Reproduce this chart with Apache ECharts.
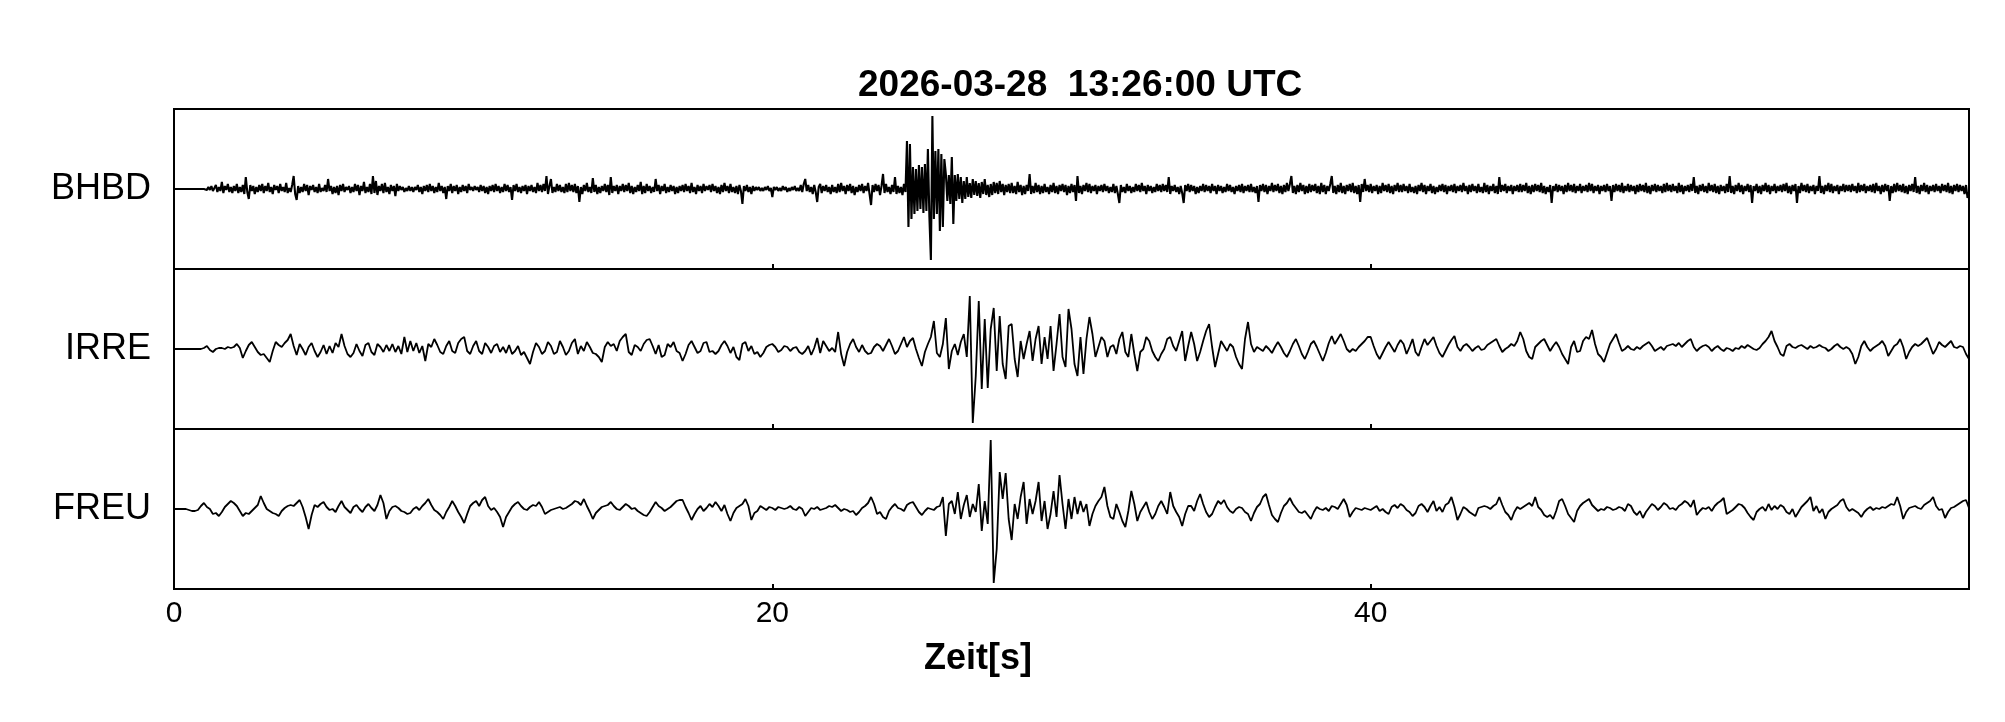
<!DOCTYPE html>
<html>
<head>
<meta charset="utf-8">
<script src="https://cdn.jsdelivr.net/npm/echarts@6/dist/echarts.min.js"></script>
<style>html,body{margin:0;padding:0;background:#fff}#c{width:2005px;height:722px}</style>
</head>
<body>
<div id="c"></div>
<script>
// Stations (panel labels, top to bottom)
const stations = ['BHBD', 'IRRE', 'FREU'];
const titleText = '2026-03-28  13:26:00 UTC';
const xName = 'Zeit[s]';
const xTicks = [0, 20, 40, 60];
const xLabels = ['0', '20', '40', ''];

// BHBD: sample step 0.05 s, one row = 1 s (amplitude in relative units)
const bhbdDt = 0.05;
const bhbd = [
0,0,0,0,0,0,0,0,0,0,0,0,0,0,0,0,0,0,0,1,
0,1,-1,2,-1,3,-2,1,4,-3,2,-2,7,-4,3,-1,5,-3,2,-4,
3,-2,5,-4,2,-3,4,-5,12,-3,-10,4,-2,3,-5,2,-3,4,-2,5,
-4,3,-2,6,-3,2,-5,4,-1,3,-4,5,-2,2,-3,6,-4,1,-3,4,
13,-5,-11,3,-4,2,-3,5,-2,4,-6,3,-1,4,-3,2,-4,5,-3,1,
-2,4,-3,10,-2,3,-5,2,-4,3,-6,4,-2,5,-3,2,-1,3,-4,2,
-3,5,-2,4,-6,3,-2,7,-4,2,-3,5,-5,13,-4,8,-6,3,-2,5,
-4,6,-3,2,-5,4,-2,3,-7,5,-2,3,-1,2,-3,1,-2,3,-2,2,
-3,2,-1,4,-3,2,-5,3,-2,4,-3,5,-2,3,-4,2,-3,6,-2,3,
-4,2,-10,3,-2,5,-4,3,-2,4,-5,2,-3,4,-2,3,-4,5,-1,2,
-2,3,-1,2,-3,4,-2,3,-4,2,-5,3,-2,4,-3,5,-2,3,-4,2,
-3,5,-2,4,-3,2,-11,4,-2,5,-3,2,-4,3,-2,4,-5,3,-2,4,
-3,2,-4,6,-2,4,-3,5,-2,13,-5,3,10,-4,2,-3,5,-2,4,-3,
2,-4,5,-3,6,-2,4,-3,5,-4,3,-13,2,-5,4,-2,6,-3,2,-4,
11,-3,4,-5,2,-4,3,-2,5,-3,4,-6,12,-4,3,-2,4,-5,3,-2,
5,-3,4,-2,6,-4,3,-5,2,-3,4,-2,7,-5,3,-4,5,-2,3,-4,
2,-3,10,-2,4,-5,3,-2,5,-4,2,-3,4,-2,3,-5,2,-4,3,-2,
4,-3,5,-2,3,-4,6,-3,2,-5,4,-2,3,-4,5,-2,3,-1,4,-3,
5,-2,3,-4,2,-5,4,-3,6,-2,3,-4,5,-3,2,-4,3,-5,4,-2,
-15,3,-2,4,-3,2,-5,3,-2,2,-1,2,-2,1,-2,2,-1,3,-2,1,
-8,2,-1,2,-2,1,-2,3,-1,2,-3,1,-2,2,-1,3,-2,1,-2,4,
-3,5,10,-2,4,-3,2,-5,4,-3,-13,2,5,-4,3,-2,4,-3,2,-5,
4,-3,2,-4,5,-3,6,-2,3,-5,4,-2,5,-4,3,-6,2,-3,4,-2,
5,-4,3,-2,6,-5,-16,4,-3,5,-2,4,-6,3,15,-4,5,-3,2,-5,
4,-3,12,-5,3,-4,2,-6,5,-3,48,-38,45,-30,22,-25,20,-22,24,-20,
22,-24,25,-22,40,-28,-71,73,-30,38,-25,40,-42,35,-38,30,15,-12,14,-15,
32,-35,14,-12,15,-10,12,-14,8,-10,12,-8,6,-9,10,-6,8,-7,6,-9,
7,-5,10,-6,4,-8,5,-6,7,-4,6,-5,8,-3,5,-6,4,-3,5,-4,
6,-4,3,-5,7,-3,4,-6,3,-5,4,-2,15,-5,3,-4,6,-3,4,-5,
3,-4,5,-3,2,-5,4,-3,6,-4,3,-5,4,-2,5,-3,4,-6,3,-4,
5,-3,4,-12,13,-4,3,-5,4,-2,6,-3,5,-4,3,-2,4,-5,3,-2,
4,-3,5,-2,3,-4,2,-3,5,-4,3,-5,-14,4,-3,2,-4,5,-2,3,
-4,2,-3,5,-2,4,-3,6,-2,3,-5,4,-2,3,-4,2,-3,5,-2,4,
-3,5,-2,4,-3,12,-5,3,-2,4,-3,2,-5,3,-4,-14,4,-2,5,-3,
4,-2,3,-5,2,-4,3,-2,5,-3,4,-2,3,-4,5,-2,3,-5,4,-2,
3,-4,2,-3,5,-2,4,-3,2,-5,3,-2,4,-3,5,-4,3,-2,4,-3,
5,-3,2,-4,3,-13,4,-2,5,-3,4,-5,3,-2,6,-3,4,-2,5,-4,
3,-5,4,-3,6,-2,5,13,-4,3,-5,4,-3,6,-2,4,-5,3,-4,5,
-3,4,-2,5,-4,3,-5,6,-3,4,-5,3,-2,5,13,-4,3,-5,4,-3,
6,-4,3,-5,4,-2,5,-3,6,-4,3,-5,4,-13,5,-3,10,-2,4,-3,
5,-4,3,-2,4,-5,3,-4,6,-2,4,-3,5,-4,3,-5,4,-2,6,-3,
4,-3,5,-2,3,-4,5,-3,2,-4,3,-5,4,-2,6,-3,4,-5,3,-2,
5,-4,3,-5,2,-3,4,-2,5,-3,4,-5,3,-2,4,-3,5,-4,3,-2,
4,-3,6,-2,3,-5,4,-3,5,-2,3,-4,5,-3,2,-4,6,-3,4,-5,
3,-2,5,-4,3,-5,12,-3,4,-2,5,-4,3,-2,4,-5,3,-2,4,-3,
5,-3,4,-2,6,-4,3,-5,4,-3,5,-2,4,-3,6,-4,3,-5,2,-3,
4,-14,3,-2,5,-3,4,-2,3,-5,4,-3,6,-2,4,-3,5,-4,3,-2,
5,-4,3,-2,4,-3,6,-2,5,-4,3,-2,4,-5,3,-2,4,-3,5,-2,
3,-12,4,-3,5,-2,4,-3,6,-4,3,-2,5,-3,4,-2,3,-5,4,-3,
5,-2,4,-3,6,-4,3,-5,4,-2,5,-3,4,-2,3,-4,5,-3,6,-2,
4,-3,5,-2,3,-4,6,-3,4,-5,3,-2,4,-3,5,-2,12,-4,3,-5,
4,-2,5,-3,3,-4,6,-2,4,-3,5,-4,3,-5,4,-2,3,-4,5,-3,
13,-4,3,-5,4,-2,6,-3,4,-5,3,-2,5,-3,4,-14,3,-2,5,-4,
3,-5,4,-2,6,-3,4,-5,3,-2,5,-4,3,-2,4,-3,5,-2,6,-4,
3,-5,4,-2,5,-14,3,-4,6,-2,4,-3,5,-4,3,-2,4,-5,3,-2,
13,-4,3,-5,4,-2,6,-3,5,-4,3,-2,4,-5,3,-2,5,-3,4,-2,
4,-3,5,-2,3,-4,6,-3,4,-2,5,-4,3,-2,4,-3,5,-4,6,-2,
3,-5,4,-3,5,-2,4,-12,3,-4,5,-3,6,-2,4,-3,5,-4,3,-5,
4,-2,5,-3,12,-4,3,-5,4,-2,6,-3,4,-5,3,-2,4,-3,5,-2,
3,-4,5,-2,4,-3,6,-4,3,-5,4,-2,5,-3,4,-2,3,-5,4,-9,
-3
];

// IRRE: sample step 0.1 s, one row = 1 s
const irreDt = 0.1;
const irre = [
0,0,0,0,0,0,0,0,0,0,
1,3,-1,-3,0,1,1,0,2,1,
2,5,1,-9,-2,4,7,2,-3,-6,
-5,-9,-13,-2,7,4,2,6,9,15,
3,-6,5,0,-6,2,6,-2,-8,-3,
4,-5,3,-4,6,2,15,3,-5,-8,
-4,5,-2,-7,4,6,-3,-6,5,2,
-3,4,-2,5,-3,3,-5,12,-3,8,
-2,6,-4,3,-12,5,2,10,4,-3,
-5,3,8,-2,-4,6,10,12,-2,-5,
3,8,-2,-5,6,2,-4,3,5,-3,
2,-4,4,-5,-2,3,-6,-3,-9,-15,
-3,6,2,-5,-2,7,3,-5,-3,8,
2,-6,-2,6,10,-5,3,-2,7,2,
-4,-5,-8,-13,2,7,3,5,-2,8,
12,15,-3,-6,4,2,-2,5,9,10,
3,-5,4,-8,-6,5,2,7,-2,-4,
-12,-5,4,8,2,-4,-2,6,7,-3,
-2,-5,-2,4,8,3,-4,2,-8,-11,
5,7,-2,3,-5,-3,-8,-4,2,4,
5,2,-3,-1,3,2,-2,1,2,-3,
-5,-2,3,-6,1,11,-4,8,3,-2,
1,-3,17,-5,-17,-3,5,10,2,-3,
4,-2,-5,-4,2,5,3,-2,4,10,
3,-5,-2,5,12,2,8,11,0,-9,
-17,-3,5,12,28,-4,-8,5,31,-20,
-2,5,-6,7,15,-8,53,-74,-27,48,
-40,30,-39,20,41,-22,33,-15,-30,23,
25,-10,-28,8,-10,5,18,-12,10,23,
-15,12,-10,23,-22,5,35,-8,-18,40,
20,-15,-27,12,-25,10,32,15,-8,2,
12,8,-8,2,4,-5,10,17,-3,-8,
15,-5,-22,-3,0,12,8,-2,-8,-12,
-5,0,10,12,3,-2,8,18,-12,3,
17,5,-12,-3,8,18,25,2,-18,-5,
8,3,-2,5,2,-8,-15,-20,10,27,
5,-3,2,0,-2,3,0,-4,2,7,
2,-4,-8,-2,5,10,3,-5,-10,-3,
5,8,2,-5,-12,-4,6,13,5,10,
15,8,0,-3,0,-2,2,5,8,12,
12,3,-5,-10,-4,2,7,2,-3,4,
9,5,-5,2,10,-3,-7,2,10,4,
8,12,3,-4,-8,-2,4,9,13,2,
-2,3,5,2,-2,1,3,-1,0,4,
6,8,10,3,-3,0,2,5,3,8,
17,10,-2,-8,-10,2,5,8,10,4,
-2,3,7,2,-5,-10,-15,2,8,-3,
-2,8,12,10,19,5,-5,-8,-13,-4,
5,10,15,6,-2,0,3,0,-1,2,
0,3,5,7,3,-2,0,2,-1,3,
4,5,3,6,2,5,8,10,2,-2,
1,3,4,2,-2,1,3,0,-2,1,
0,-2,1,0,3,1,4,2,0,-1,
1,5,8,12,18,8,2,-5,-7,3,
5,2,1,3,4,2,0,3,1,2,
4,2,1,-2,0,3,5,2,0,2,
0,-5,-15,-8,3,8,2,-2,1,3,
5,8,3,-7,-2,3,5,10,2,-10,
-3,2,5,3,5,8,11,3,-5,0,
7,4,2,5,8,2,1,3,2,-5,
-10
];

// FREU: sample step 0.1 s, one row = 1 s
const freuDt = 0.1;
const freu = [
0,0,0,0,0,-1,-2,-2,-1,3,
6,2,0,-5,-4,-7,-3,2,5,8,
6,3,-2,-7,-4,-5,-2,1,4,13,
6,0,-2,-4,-5,-7,-2,1,3,4,
3,6,9,2,-8,-20,-6,4,2,5,
7,2,-1,0,-3,3,8,2,-1,-4,
2,4,0,-3,2,5,1,-2,4,14,
6,-10,-2,2,3,1,-2,-3,-5,-4,
0,2,-1,3,6,10,4,-1,-3,-6,
-10,-3,2,8,3,-3,-8,-14,-5,3,
6,8,3,9,12,3,-1,1,-3,-8,
-18,-8,-3,2,5,7,3,0,-1,2,
4,3,7,2,-5,-3,-1,0,1,2,
0,1,3,5,8,7,4,10,3,-3,
-10,-4,-1,2,3,4,7,3,0,-1,
2,5,3,0,1,-2,-4,-6,-7,-3,
2,7,3,1,-2,0,2,5,8,9,
9,2,-4,-11,-5,0,3,-2,1,5,
2,7,3,-2,4,-5,-12,-4,1,3,
5,10,3,-11,-4,-2,3,1,-1,2,
1,-1,2,1,0,1,3,0,-1,2,
0,-7,-3,1,0,2,-1,0,1,3,
2,4,1,-2,0,-1,-3,-2,-6,-3,
1,3,6,12,5,-5,-3,-8,-10,-2,
2,5,1,0,-2,4,6,7,2,-3,
-6,-2,1,0,-1,2,3,12,-27,5,
8,-5,17,-10,4,14,-8,5,-3,25,
-22,8,-15,69,-74,-40,37,10,36,-10,
-31,5,-10,12,27,-15,10,-5,8,27,
-12,8,-20,-5,18,-8,34,5,-20,10,
-10,12,-5,8,-3,5,-17,-5,3,8,
12,22,3,-8,-10,5,-3,-12,-18,-2,
18,5,-12,-3,2,7,-3,-10,-5,3,
8,2,-5,17,3,-3,-8,-17,-5,3,
3,-2,8,15,5,-3,-8,-5,2,8,
5,9,2,-2,-4,0,2,1,-3,-5,
-12,-4,2,5,12,15,4,-6,-10,-13,
-4,3,6,11,5,1,-3,-4,-2,-6,
-10,-3,2,0,-1,1,-2,3,2,0,
5,10,4,-8,-3,1,0,-1,1,0,
-1,1,3,-2,0,-3,-5,2,4,1,
5,3,-1,-3,-7,-4,3,5,2,-3,
3,8,-2,2,-3,4,6,12,2,-11,
-5,2,0,-3,-5,-7,1,2,3,2,
0,3,5,12,4,-3,-6,-11,-3,2,
0,2,4,6,3,12,2,-1,-6,-8,
-6,-10,-2,8,10,3,-5,-9,-13,-2,
3,6,8,10,4,1,-2,0,-1,2,
1,-1,0,2,1,-2,5,3,-3,-6,
-2,-9,-3,1,5,3,-1,2,6,4,
0,1,-1,3,5,8,6,2,9,-6,
-2,1,0,2,-2,3,6,8,11,-5,
-3,-1,2,5,4,1,-4,-8,-11,-3,
0,2,-2,5,-1,3,0,4,2,-3,
-5,0,-8,-3,2,5,8,12,-2,3,
-4,0,-10,-3,0,2,4,8,10,2,
-2,0,-2,-4,-8,-3,0,2,-1,1,
0,2,1,3,5,4,12,3,-10,-3,
1,2,3,1,0,4,6,8,12,3,
-1,0,-9,-3,1,2,4,6,8,9,
1
];

const traces = [
  { values: bhbd, dt: bhbdDt, width: 2.1 },
  { values: irre, dt: irreDt, width: 1.8 },
  { values: freu, dt: freuDt, width: 1.8 }
];

const FONT = "'Liberation Sans', Arial, Helvetica, sans-serif";
const chart = echarts.init(document.getElementById('c'), null, { renderer: 'canvas' });

const grids = [], xAxes = [], yAxes = [], series = [];
stations.forEach((name, i) => {
  grids.push({ left: 174, right: 36, top: 109 + 160 * i, height: 160, show: true,
    borderColor: '#000', borderWidth: 2, backgroundColor: 'transparent', containLabel: false });
  xAxes.push({
    gridIndex: i, type: 'value', position: 'bottom',
    min: xTicks[0], max: xTicks[xTicks.length - 1], interval: 20,
    axisLine: { show: true, onZero: false, lineStyle: { color: '#000', width: 2 } },
    axisTick: { show: true, inside: true, length: 5, lineStyle: { color: '#000', width: 2 } },
    splitLine: { show: false },
    axisLabel: {
      show: i === stations.length - 1, margin: 10, color: '#000', fontSize: 30, fontFamily: FONT,
      formatter: v => { const k = xTicks.indexOf(v); return k >= 0 ? xLabels[k] : ''; }
    }
  });
  yAxes.push({
    gridIndex: i, type: 'value', min: -80, max: 80, interval: 80,
    axisLine: { show: false }, axisTick: { show: false }, splitLine: { show: false },
    axisLabel: { margin: 23, color: '#000', fontSize: 36, fontFamily: FONT, padding: [6, 0, 0, 0],
      formatter: v => (v === 0 ? name : '') }
  });
  const tr = traces[i];
  series.push({
    type: 'line', xAxisIndex: i, yAxisIndex: i, showSymbol: false, symbol: 'none',
    animation: false, silent: true, sampling: null,
    lineStyle: { color: '#000', width: tr.width },
    data: tr.values.map((v, k) => [k * tr.dt, v])
  });
});

chart.setOption({
  backgroundColor: '#fff',
  animation: false,
  title: [
    { text: titleText, left: 858, top: 67, padding: 0,
      textStyle: { fontSize: 37, fontWeight: 'bold', color: '#000', fontFamily: FONT } },
    { text: xName, left: 924, top: 641, padding: 0,
      textStyle: { fontSize: 36, fontWeight: 'bold', color: '#000', fontFamily: FONT } }
  ],
  grid: grids, xAxis: xAxes, yAxis: yAxes, series: series
});
</script>
</body>
</html>
